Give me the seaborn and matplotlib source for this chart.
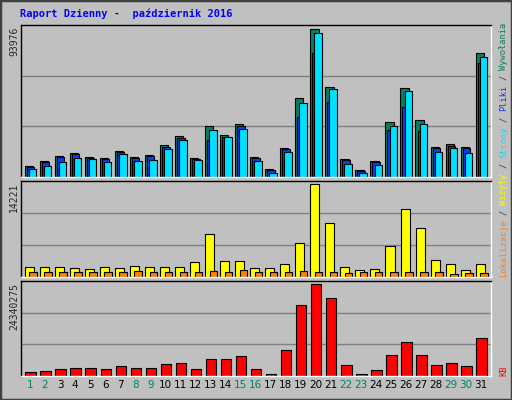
import numpy as np
import pandas as pd
import matplotlib
matplotlib.use("Agg")
import matplotlib.pyplot as plt
import seaborn as sns
from matplotlib.patches import Rectangle

days = list(range(1, 32))
hits = [6800, 9990, 13180, 15100, 12540, 11910, 16370, 12540, 13820, 20200, 25940, 11910, 32320, 26580, 33590, 12540,
        4890, 18280, 50180, 93976, 57190, 11270, 4250, 9990, 34870, 56560, 36140, 18920, 20840, 18920, 78880]
files = [6500, 9590, 12650, 14500, 12040, 11430, 15720, 12040, 13270, 19390, 24900, 11430, 23390, 25520, 32250, 12040,
         4690, 17550, 38060, 79090, 47630, 10820, 4080, 9590, 29770, 44440, 29130, 18160, 20010, 18160, 72710]
pages = [4890, 6800, 9350, 11910, 11270, 9350, 14460, 9990, 10630, 17650, 23390, 10630, 29770, 25300, 30400, 9990,
         2340, 15730, 46990, 91640, 55920, 8080, 2340, 7440, 32320, 54640, 33590, 15730, 18280, 15100, 76330]
visits = [1480, 1480, 1480, 1330, 1180, 1480, 1330, 1640, 1480, 1480, 1480, 2250, 6550, 2400, 2400, 1330,
          1330, 1940, 5170, 14221, 8340, 1480, 1020, 1180, 4810, 10380, 7470, 2560, 1940, 1020, 1940]
sites = [720, 720, 720, 720, 720, 720, 720, 870, 720, 720, 720, 720, 870, 720, 1020, 720,
         720, 720, 870, 720, 720, 560, 720, 720, 720, 720, 720, 720, 410, 560, 560]
kb = [973600, 1239000, 1770000, 2036000, 2036000, 1770000, 2567000, 2036000, 2036000, 3098000, 3363000,
      1770000, 4425000, 4425000, 5222000, 1770000, 443000, 6815000, 18760000, 24340275, 20620000,
      2832000, 443000, 1505000, 5487000, 8939000, 5487000, 2832000, 3363000, 2567000, 10000000]
weekends = [1, 2, 8, 9, 15, 16, 22, 23, 29, 30]

sns.set_theme(style="white")
plt.rcParams['font.family'] = ['DejaVu Sans Mono', 'DejaVu Sans']
BG = "#C0C0C0"
fig = plt.figure(figsize=(5.12, 4.0), dpi=100)
fig.patch.set_facecolor(BG)
fig.patches.append(Rectangle((0, 0), 1, 1, transform=fig.transFigure, fill=False, edgecolor="#404040", lw=2.5))

L, W = 21 / 512, 470 / 512
def mkax(top, bot):
    ax = fig.add_axes([L, (400 - bot) / 400, W, (bot - top) / 400])
    ax.set_facecolor(BG)
    for s in ax.spines.values():
        s.set_color("black"); s.set_linewidth(1)
    ax.spines["bottom"].set_color("white"); ax.spines["right"].set_color("white")
    ax.set_xlim(0.4, 31.67)
    ax.set_yticks([]); ax.set_xticks([])
    return ax

d = np.array(days, dtype=float)
ek = dict(edgecolor="black", linewidth=0.8)

ax1 = mkax(25, 177)
top1 = max(hits) * 455 / 442
ax1.set_ylim(0, top1)
for f in (1/3, 2/3):
    ax1.axhline(top1 * f, color="#808080", lw=1, zorder=0)
ax1.bar(d - 0.08, hits, width=0.55, color="#008060", **ek)
ax1.bar(d + 0.03, files, width=0.5, color="#0040FF", **ek)
ax1.bar(d + 0.17, pages, width=0.5, color="#00E0FF", **ek)

ax2 = mkax(181, 277)
top2 = max(visits) * 288 / 278
ax2.set_ylim(0, top2)
for f in (1/3, 2/3):
    ax2.axhline(top2 * f, color="#808080", lw=1, zorder=0)
ax2.bar(d - 0.05, visits, width=0.6, color="#FFFF00", **ek)
ax2.bar(d + 0.2, sites, width=0.5, color="#FF8000", **ek)

ax3 = mkax(281, 376)
top3 = max(kb) * 285 / 275
for f in (1/3, 2/3):
    ax3.axhline(top3 * f, color="#808080", lw=1, zorder=0)
df = pd.DataFrame({"day": d + 0.04, "kb": kb})
sns.barplot(data=df, x="day", y="kb", native_scale=True, width=0.7, color="#FF0000",
            saturation=1, edgecolor="black", linewidth=0.8, ax=ax3)
ax3.set_ylim(0, top3)
ax3.set_xlim(0.4, 31.67)
ax3.set_xlabel(""); ax3.set_ylabel("")
ax3.set_yticks([])
ax3.set_xticks(d)
ax3.set_xticklabels([str(x) for x in days], fontsize=7.5, family="DejaVu Sans")
for lbl, x in zip(ax3.get_xticklabels(), days):
    lbl.set_color("#008060" if x in weekends else "black")
ax3.tick_params(axis="x", length=0, pad=3)

fig.text(20 / 512, 1 - 14 / 400, "Raport Dzienny -  październik 2016", color="#0000FF",
         fontsize=7.5, fontweight="bold", va="center", ha="left")
for txt, y in (("93976", 27), ("14221", 183), ("24340275", 283)):
    fig.text(14 / 512, 1 - y / 400, txt, rotation=90, fontsize=7, va="top", ha="center")

pieces = [("Lokalizacje", "#FF8000"), (" / ", "#404040"), ("Wizyty", "#FFFF00"), (" / ", "#404040"),
          ("Strony", "#00E0FF"), (" / ", "#404040"), ("Pliki", "#0040FF"), (" / ", "#404040"),
          ("Wywołania", "#008060")]
fs = 6.2
cw = fs * 100 / 72 * 0.602
ypx = 277
for t, c in pieces:
    n = len(t)
    fig.text(504 / 512, 1 - (ypx - n * cw / 2) / 400, t.strip(), rotation=90, color=c,
             fontsize=fs, va="center", ha="center")
    ypx -= n * cw
fig.text(504 / 512, 1 - 376 / 400, "KB", rotation=90, color="#FF0000", fontsize=fs, va="bottom", ha="center")

fig.savefig("out.png", dpi=100, facecolor=BG)
